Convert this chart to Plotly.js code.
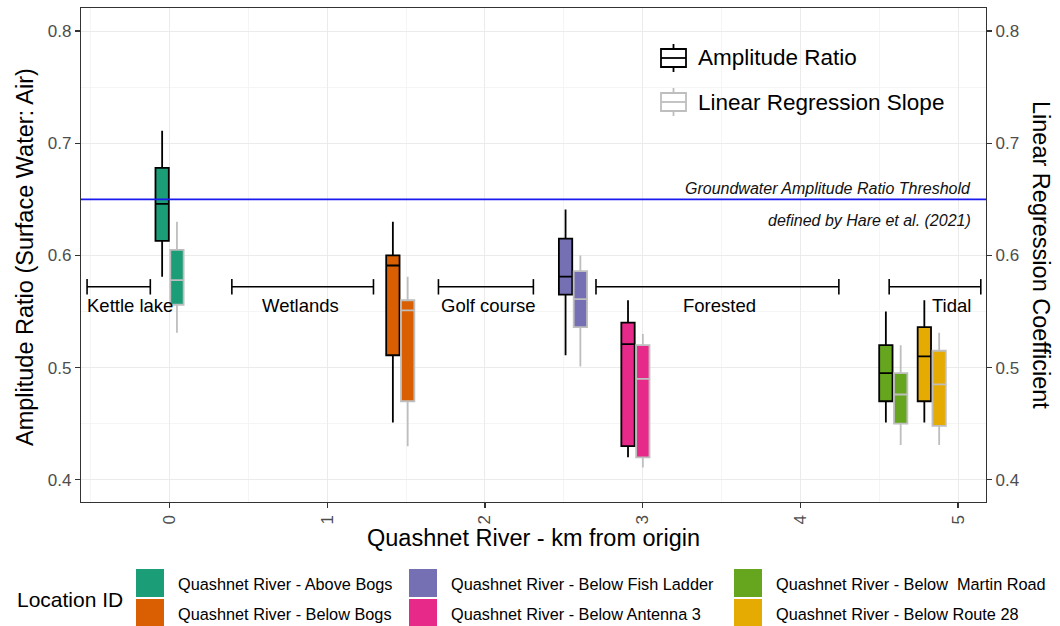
<!DOCTYPE html>
<html><head><meta charset="utf-8">
<script src="https://cdn.plot.ly/plotly-3.0.1.min.js"></script>
<style>html,body{margin:0;padding:0;background:#fff}#chart{width:1060px;height:626px}</style>
</head><body><div id="chart"></div>
<script>
// ---------- data ----------
const locations = ["Quashnet River - Above Bogs","Quashnet River - Below Bogs","Quashnet River - Below Fish Ladder","Quashnet River - Below Antenna 3","Quashnet River - Below \u00a0Martin Road","Quashnet River - Below Route 28"];
const locationKm = [0.0, 1.463, 2.558, 2.954, 4.589, 4.833];
const locationColors = ["#1B9E77","#D95F02","#7570B3","#E7298A","#66A61E","#E6AB02"];

// Amplitude Ratio (left axis)
const arLower  = [0.581, 0.451, 0.511, 0.420, 0.451, 0.451];
const arQ1     = [0.613, 0.511, 0.565, 0.430, 0.470, 0.470];
const arMedian = [0.646, 0.591, 0.581, 0.521, 0.495, 0.510];
const arQ3     = [0.678, 0.600, 0.615, 0.540, 0.520, 0.536];
const arUpper  = [0.711, 0.630, 0.641, 0.560, 0.550, 0.560];

// Linear Regression Slope (right axis)
const lrsLower  = [0.531, 0.430, 0.501, 0.411, 0.431, 0.431];
const lrsQ1     = [0.556, 0.470, 0.536, 0.420, 0.450, 0.448];
const lrsMedian = [0.578, 0.551, 0.561, 0.490, 0.476, 0.485];
const lrsQ3     = [0.605, 0.560, 0.586, 0.520, 0.495, 0.515];
const lrsUpper  = [0.630, 0.581, 0.600, 0.530, 0.520, 0.531];

const thresholdValue = 0.65;
const thresholdText = ["Groundwater Amplitude Ratio Threshold", "defined by Hare et al. (2021)"];

const habitats = ["Kettle lake","Wetlands","Golf course","Forested","Tidal"];
const habitatStart = [-0.523, 0.395, 1.705, 2.704, 4.563];
const habitatEnd   = [-0.122, 1.293, 2.307, 4.244, 5.144];
const habitatLabelKm = [-0.25, 0.83, 2.02, 3.49, 4.96];

const metricNames = ["Amplitude Ratio","Linear Regression Slope"];
const xTicks = [0,1,2,3,4,5];
const yTicks = [0.4,0.5,0.6,0.7,0.8];

// ---------- layout helpers ----------
const FONT = "Liberation Sans, Arial, sans-serif";
const M = {l:81, r:74, t:8, b:124};
const W = 1060, H = 626;
const PW = W - M.l - M.r, PH = H - M.t - M.b;
const px = x => (x - M.l) / PW;
const py = y => (H - M.b - y) / PH;
const bracketLevel = 0.572, habitatLabelLevel = 0.555;
const arLine = "#000000", lrsLine = "#BEBEBE";

const traces = [];
const boxStats = [
  {name: metricNames[0], lo: arLower, q1: arQ1, md: arMedian, q3: arQ3, hi: arUpper, line: arLine, grp: "ar"},
  {name: metricNames[1], lo: lrsLower, q1: lrsQ1, md: lrsMedian, q3: lrsQ3, hi: lrsUpper, line: lrsLine, grp: "lrs"}
];
locations.forEach((loc, i) => {
  boxStats.forEach(m => {
    traces.push({
      type: "box", name: loc + " " + m.name,
      x: [locationKm[i]], q1: [m.q1[i]], median: [m.md[i]], q3: [m.q3[i]],
      lowerfence: [m.lo[i]], upperfence: [m.hi[i]],
      fillcolor: locationColors[i], line: {color: m.line, width: 1.8},
      whiskerwidth: 0, offsetgroup: m.grp, alignmentgroup: "all",
      showlegend: false, hoverinfo: "skip", xaxis: "x", yaxis: "y"
    });
  });
});
habitats.forEach((h, i) => {
  traces.push({
    type: "scatter", mode: "lines+markers", name: h,
    x: [habitatStart[i], habitatEnd[i]], y: [bracketLevel, bracketLevel],
    line: {color: "#000", width: 1.6},
    marker: {symbol: "line-ns", size: 11, line: {color: "#000", width: 1.6}},
    showlegend: false, hoverinfo: "skip"
  });
});
// empty trace so that the secondary (right) axis is created
traces.push({type: "scatter", mode: "markers", x: [], y: [], xaxis: "x", yaxis: "y2", showlegend: false, hoverinfo: "skip"});

const annotations = [];
const shapes = [];

// threshold line
shapes.push({type: "line", xref: "paper", x0: 0, x1: 1, yref: "y", y0: thresholdValue, y1: thresholdValue,
  line: {color: "#1a1aee", width: 1.8}});
annotations.push({xref: "paper", yref: "paper", x: px(973), y: py(188), xanchor: "right", yanchor: "middle",
  text: "<i>" + thresholdText[0] + "</i>", showarrow: false, font: {family: FONT, size: 16, color: "#111"}});
annotations.push({xref: "paper", yref: "paper", x: px(973), y: py(220), xanchor: "right", yanchor: "middle",
  text: "<i>" + thresholdText[1] + "</i>", showarrow: false, font: {family: FONT, size: 16, color: "#111"}});

// habitat labels
habitats.forEach((h, i) => {
  annotations.push({xref: "x", yref: "y", x: habitatLabelKm[i], y: habitatLabelLevel, text: h, showarrow: false,
    xanchor: "center", yanchor: "middle", font: {family: FONT, size: 18.5, color: "#000"}});
});

// axis titles
annotations.push({xref: "paper", yref: "paper", x: 0.5, y: py(538), text: "Quashnet River - km from origin",
  showarrow: false, xanchor: "center", yanchor: "middle", font: {family: FONT, size: 23.5, color: "#000"}});
annotations.push({xref: "paper", yref: "paper", x: px(25), y: py(257), text: "Amplitude Ratio (Surface Water: Air)",
  textangle: -90, showarrow: false, xanchor: "center", yanchor: "middle", font: {family: FONT, size: 23.5, color: "#000"}});
annotations.push({xref: "paper", yref: "paper", x: px(1041), y: py(255), text: "Linear Regression Coefficient",
  textangle: 90, showarrow: false, xanchor: "center", yanchor: "middle", font: {family: FONT, size: 23.5, color: "#000"}});

// metric legend (top-right)
const metricLegendY = [58, 102];
const metricLegendColors = [arLine, lrsLine];
metricNames.forEach((m, k) => {
  const cy = metricLegendY[k], c = metricLegendColors[k];
  const x0 = 661, x1 = 686, xc = (x0 + x1) / 2;
  shapes.push({type: "rect", xref: "paper", yref: "paper", x0: px(x0), x1: px(x1), y0: py(cy - 9), y1: py(cy + 9),
    line: {color: c, width: 1.8}, fillcolor: "rgba(0,0,0,0)"});
  shapes.push({type: "line", xref: "paper", yref: "paper", x0: px(x0), x1: px(x1), y0: py(cy), y1: py(cy), line: {color: c, width: 1.8}});
  shapes.push({type: "line", xref: "paper", yref: "paper", x0: px(xc), x1: px(xc), y0: py(cy - 14), y1: py(cy - 9), line: {color: c, width: 1.8}});
  shapes.push({type: "line", xref: "paper", yref: "paper", x0: px(xc), x1: px(xc), y0: py(cy + 9), y1: py(cy + 14), line: {color: c, width: 1.8}});
  annotations.push({xref: "paper", yref: "paper", x: px(696), y: py(cy), text: m, showarrow: false,
    xanchor: "left", yanchor: "middle", font: {family: FONT, size: 22.5, color: "#000"}});
});

// location legend (bottom)
annotations.push({xref: "paper", yref: "paper", x: px(15), y: py(599), text: "Location ID", showarrow: false,
  xanchor: "left", yanchor: "middle", font: {family: FONT, size: 21, color: "#000"}});
const colX = [136, 409, 734], rowY = [569, 599];
locations.forEach((loc, i) => {
  const c = Math.floor(i / 2), r = i % 2;
  shapes.push({type: "rect", xref: "paper", yref: "paper", x0: px(colX[c]), x1: px(colX[c] + 28),
    y0: py(rowY[r]), y1: py(rowY[r] + 28), line: {width: 0}, fillcolor: locationColors[i]});
  annotations.push({xref: "paper", yref: "paper", x: px(colX[c] + 40), y: py(rowY[r] + 15), text: loc, showarrow: false,
    xanchor: "left", yanchor: "middle", font: {family: FONT, size: 16.3, color: "#000"}});
});

const yRange = [0.3802, 0.8205];
const layout = {
  width: W, height: H, margin: M,
  paper_bgcolor: "#fff", plot_bgcolor: "#fff",
  font: {family: FONT},
  showlegend: false,
  boxmode: "group", boxgap: 0.23, boxgroupgap: 0.1,
  xaxis: {range: [-0.5615, 5.177], tickvals: xTicks, ticktext: xTicks.map(String), tickangle: -90,
    tickfont: {family: FONT, size: 17, color: "#4D4D4D"}, ticks: "outside", ticklen: 5, tickcolor: "#333", tickwidth: 1.2,
    showgrid: true, gridcolor: "#EBEBEB", gridwidth: 1,
    minor: {dtick: 0.5, tick0: 0.5, showgrid: true, gridcolor: "#F2F2F2", gridwidth: 0.8},
    showline: true, mirror: true, linecolor: "#333", linewidth: 1.2, zeroline: false, automargin: false},
  yaxis: {range: yRange, tickvals: yTicks, ticktext: yTicks.map(v => v.toFixed(1)),
    tickfont: {family: FONT, size: 17, color: "#4D4D4D"}, ticks: "outside", ticklen: 5, tickcolor: "#333", tickwidth: 1.2,
    showgrid: true, gridcolor: "#EBEBEB", gridwidth: 1,
    minor: {dtick: 0.05, tick0: 0, showgrid: true, gridcolor: "#F2F2F2", gridwidth: 0.8},
    showline: true, mirror: true, linecolor: "#333", linewidth: 1.2, zeroline: false, automargin: false},
  yaxis2: {overlaying: "y", side: "right", anchor: "x", range: yRange, tickvals: yTicks, ticktext: yTicks.map(v => v.toFixed(1)),
    tickfont: {family: FONT, size: 17, color: "#4D4D4D"}, ticks: "outside", ticklen: 5, tickcolor: "#333", tickwidth: 1.2,
    showgrid: false, showline: true, linecolor: "#333", linewidth: 1.2, zeroline: false, automargin: false},
  shapes: shapes, annotations: annotations
};
Plotly.newPlot("chart", traces, layout, {staticPlot: true});
</script></body></html>
